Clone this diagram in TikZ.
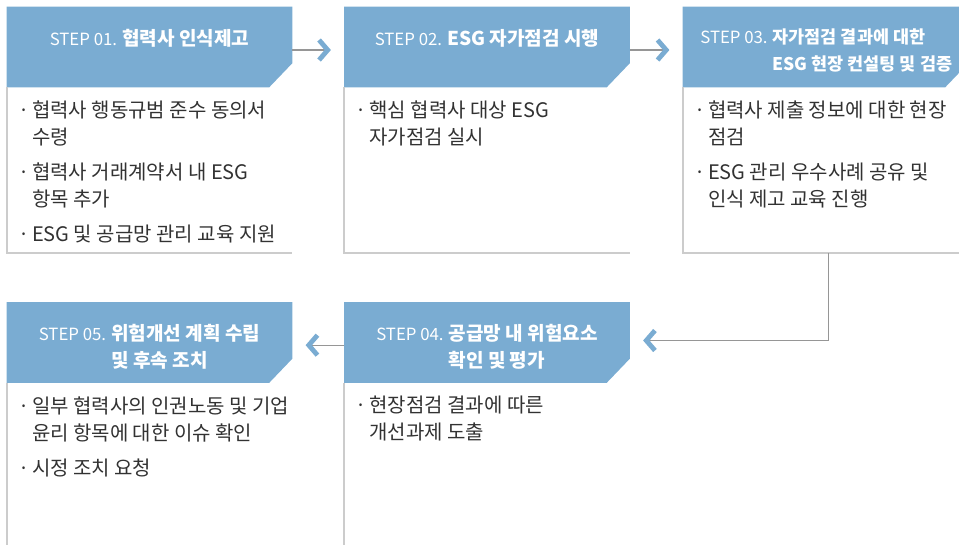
\documentclass[tikz,border=0pt]{standalone}
\usepackage{fontspec}
\setmainfont{Noto Sans CJK KR}
\usetikzlibrary{positioning,arrows.meta}

\definecolor{stepblue}{RGB}{122,172,210}
\definecolor{rulegray}{RGB}{204,204,204}
\definecolor{flowgray}{RGB}{150,150,150}
\definecolor{bodytext}{RGB}{50,50,50}

\tikzset{
  stephead/.style={minimum width=213.75pt, minimum height=60pt, inner sep=0pt},
  steptitle/.style={text=white, font=\fontsize{14.3}{20.25}\selectfont, align=left, inner sep=0pt},
  stepbody/.style={minimum width=213.75pt, inner sep=0pt},
  bodyrule/.style={draw=rulegray, line width=1.2pt},
  itemlist/.style={text=bodytext, font=\fontsize{15}{20.25}\selectfont, align=left, inner sep=0pt},
  flow/.style={draw=flowgray, line width=0.9pt, shorten >=10pt,
    -{Straight Barb[length=6.5pt, width=15pt, line width=3.6pt, color=stepblue]}}
}
\newcommand{\bul}{\makebox[10.5pt][l]{·}}
\newcommand{\cont}{\hspace*{10.5pt}}
\newcommand{\stepno}[1]{{\fontsize{12.6}{20.25}\selectfont #1}}

\begin{document}
\begin{tikzpicture}[x=0.75pt, y=-0.75pt]
\useasboundingbox (0,0) rectangle (959,544);
\clip (0,0) rectangle (959,544);

% step headers
\node[stephead] (h1) at (149.5,47) {};
\node[stephead] (h2) at (487,47) {};
\node[stephead] (h3) at (825.5,47) {};
\node[stephead] (h4) at (487,342.5) {};
\node[stephead] (h5) at (149.5,342.5) {};
\foreach \h in {h1,h2,h3,h4,h5}
  \fill[stepblue] (\h.north west) -- (\h.north east) -- ([yshift=18pt]\h.south east)
    -- ([xshift=-17.25pt]\h.south east) -- (\h.south west) -- cycle;

\node[steptitle, below=16.5pt of h1.north] (t1) {\stepno{STEP 01. }\textbf{협력사 인식제고}};
\node[steptitle, below=16.5pt of h2.north] (t2) {\stepno{STEP 02. }\textbf{ESG 자가점검 시행}};
\node[steptitle, font=\fontsize{13.1}{20.25}\selectfont, anchor=north west,
      below right=16.5pt and 13pt of h3.north west] (t3)
  {\stepno{STEP 03. }\textbf{자가점검 결과에 대한}\\\phantom{\stepno{STEP 03. }}\textbf{ESG 현장 컨설팅 및 검증}};
\node[steptitle, below=16.5pt of h4.north] (t4)
  {\stepno{STEP 04. }\textbf{공급망 내 위험요소}\\\phantom{\stepno{STEP 04. }}\textbf{확인 및 평가}};
\node[steptitle, below=16.5pt of h5.north] (t5)
  {\stepno{STEP 05. }\textbf{위험개선 계획 수립}\\\phantom{\stepno{STEP 05. }}\textbf{및 후속 조치}};

% bodies
\node[stepbody, minimum height=123.75pt, below=0pt of h1] (b1) {};
\node[stepbody, minimum height=123.75pt, below=0pt of h2] (b2) {};
\node[stepbody, minimum height=123.75pt, below=0pt of h3] (b3) {};
\node[stepbody, minimum height=150pt, below=0pt of h4] (b4) {};
\node[stepbody, minimum height=150pt, below=0pt of h5] (b5) {};

\draw[bodyrule] (b1.north west) |- (b1.south east);
\draw[bodyrule] (b2.north west) |- (b2.south east);
\draw[bodyrule] (b3.north west) |- (b3.south east);
\draw[bodyrule] (b4.north west) -- (b4.south west);
\draw[bodyrule] (b5.north west) -- (b5.south west);

\node[itemlist, anchor=north west, below right=10pt and 8.25pt of b1.north west] (l1)
  {\bul 협력사 행동규범 준수 동의서\\\cont 수령\\[6pt]
   \bul 협력사 거래계약서 내 ESG\\\cont 항목 추가\\[6pt]
   \bul ESG 및 공급망 관리 교육 지원};
\node[itemlist, anchor=north west, below right=10pt and 8.25pt of b2.north west] (l2)
  {\bul 핵심 협력사 대상 ESG\\\cont 자가점검 실시};
\node[itemlist, anchor=north west, below right=10pt and 8.25pt of b3.north west] (l3)
  {\bul 협력사 제출 정보에 대한 현장\\\cont 점검\\[6pt]
   \bul ESG 관리 우수사례 공유 및\\\cont 인식 제고 교육 진행};
\node[itemlist, anchor=north west, below right=10pt and 8.25pt of b4.north west] (l4)
  {\bul 현장점검 결과에 따른\\\cont 개선과제 도출};
\node[itemlist, anchor=north west, below right=10pt and 8.25pt of b5.north west] (l5)
  {\bul 일부 협력사의 인권노동 및 기업\\\cont 윤리 항목에 대한 이슈 확인\\[6pt]
   \bul 시정 조치 요청};

% flow between steps
\draw[flow] ([yshift=-2.25pt]h1.east) -- ([yshift=-2.25pt]h2.west);
\draw[flow] ([yshift=-2.25pt]h2.east) -- ([yshift=-2.25pt]h3.west);
\draw[flow] ([xshift=2pt]b3.south) |- ([yshift=1.5pt]h4.east);
\draw[flow] ([yshift=-2pt]h4.west) -- ([yshift=-2pt]h5.east);
\end{tikzpicture}
\end{document}
